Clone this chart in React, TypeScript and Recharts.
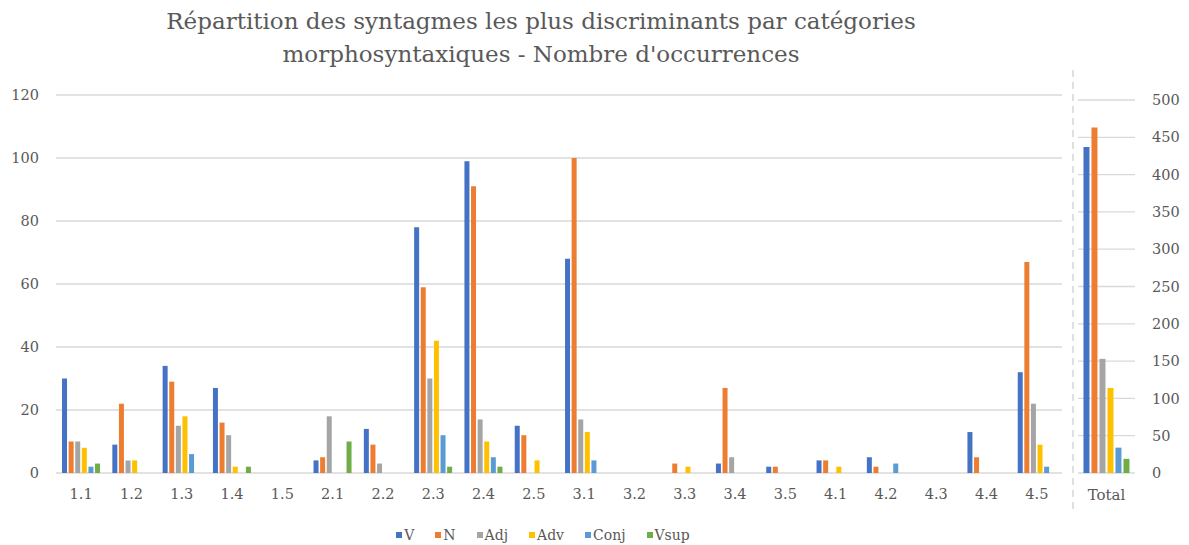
import React from 'react';
import { BarChart, Bar, XAxis, YAxis, CartesianGrid } from 'recharts';

const categories = ['1.1', '1.2', '1.3', '1.4', '1.5', '2.1', '2.2', '2.3', '2.4', '2.5', '3.1', '3.2', '3.3', '3.4', '3.5', '4.1', '4.2', '4.3', '4.4', '4.5'];
const seriesV = [30, 9, 34, 27, 0, 4, 14, 78, 99, 15, 68, 0, 0, 3, 2, 4, 5, 0, 13, 32];
const seriesN = [10, 22, 29, 16, 0, 5, 9, 59, 91, 12, 100, 0, 3, 27, 2, 4, 2, 0, 5, 67];
const seriesAdj = [10, 4, 15, 12, 0, 18, 3, 30, 17, 0, 17, 0, 0, 5, 0, 0, 0, 0, 0, 22];
const seriesAdv = [8, 4, 18, 2, 0, 0, 0, 42, 10, 4, 13, 0, 2, 0, 0, 2, 0, 0, 0, 9];
const seriesConj = [2, 0, 6, 0, 0, 0, 0, 12, 5, 0, 4, 0, 0, 0, 0, 0, 3, 0, 0, 2];
const seriesVsup = [3, 0, 0, 2, 0, 10, 0, 2, 2, 0, 0, 0, 0, 0, 0, 0, 0, 0, 0, 0];

const totalCategory = ['Total'];
const totalValues = [437, 463, 153, 114, 34, 19];

const seriesNames = ['V', 'N', 'Adj', 'Adv', 'Conj', 'Vsup'];
const seriesColors = ['#4472C4', '#ED7D31', '#A5A5A5', '#FFC000', '#5B9BD5', '#70AD47'];

const leftTicks = [0, 20, 40, 60, 80, 100, 120];
const rightTicks = [0, 50, 100, 150, 200, 250, 300, 350, 400, 450, 500];

const titleLine1 = 'Répartition des syntagmes les plus discriminants par catégories';
const titleLine2 = "morphosyntaxiques - Nombre d'occurrences";

const allSeries = [seriesV, seriesN, seriesAdj, seriesAdv, seriesConj, seriesVsup];

const mainData = categories.map((c, i) => {
  const row: Record<string, any> = { cat: c };
  seriesNames.forEach((s, k) => {
    row[s] = allSeries[k][i];
  });
  return row;
});

const totalData = totalCategory.map((c) => {
  const row: Record<string, any> = { cat: c };
  seriesNames.forEach((s, k) => {
    row[s] = totalValues[k];
  });
  return row;
});

const FONT = '"DejaVu Serif", serif';
const TEXT = '#595959';
const GRID = '#d9d9d9';

export default function App() {
  const tickStyle = { fontFamily: FONT, fontSize: 14.5, fill: TEXT };
  return (
    <div style={{ position: 'absolute', left: 0, top: 0, width: 1189, height: 545, background: '#fff', overflow: 'hidden' }}>
      <svg width={1189} height={80} style={{ position: 'absolute', left: 0, top: 0 }}>
        <text x={541} y={29} textAnchor="middle" fontFamily={FONT} fontSize={23} fill={TEXT}>{titleLine1}</text>
        <text x={541} y={62} textAnchor="middle" fontFamily={FONT} fontSize={23} fill={TEXT}>{titleLine2}</text>
      </svg>

      <div style={{ position: 'absolute', left: 0, top: 0 }}>
        <BarChart width={1062} height={545} data={mainData} margin={{ top: 95, right: 0, bottom: 42, left: 0 }} barCategoryGap="12%" barGap={1.6}>
          <CartesianGrid vertical={false} stroke={GRID} strokeWidth={1.3} />
          <XAxis dataKey="cat" interval={0} axisLine={false} tickLine={false} tickMargin={10} height={30} tick={tickStyle} />
          <YAxis domain={[0, 120]} ticks={leftTicks} width={56} axisLine={false} tickLine={false} tickMargin={11} tick={tickStyle} />
          {seriesNames.map((s, k) => (
            <Bar key={s} dataKey={s} fill={seriesColors[k]} isAnimationActive={false} />
          ))}
        </BarChart>
      </div>

      <div style={{ position: 'absolute', left: 1060, top: 0 }}>
        <BarChart width={129} height={545} data={totalData} margin={{ top: 100, right: 0, bottom: 42, left: 18 }} barCategoryGap="9.6%" barGap={2}>
          <CartesianGrid vertical={false} stroke={GRID} strokeWidth={1.3} />
          <XAxis dataKey="cat" interval={0} axisLine={false} tickLine={false} tickMargin={10} height={30} tick={{ ...tickStyle, fontSize: 15 }} />
          <YAxis orientation="right" domain={[0, 500]} ticks={rightTicks} width={54} axisLine={false} tickLine={false} tickMargin={11} tick={tickStyle} />
          {seriesNames.map((s, k) => (
            <Bar key={s} dataKey={s} fill={seriesColors[k]} isAnimationActive={false} />
          ))}
        </BarChart>
      </div>

      <svg width={10} height={545} style={{ position: 'absolute', left: 1068, top: 0 }}>
        <line x1={5} y1={70} x2={5} y2={511} stroke="#bfbfbf" strokeWidth={1} strokeDasharray="7 5" />
      </svg>

      <div style={{ position: 'absolute', left: 0, top: 526, width: 1086, display: 'flex', justifyContent: 'center', fontFamily: FONT, fontSize: 14, color: TEXT, lineHeight: '18px' }}>
        {seriesNames.map((s, k) => (
          <div key={s} style={{ display: 'flex', alignItems: 'center', marginRight: k === seriesNames.length - 1 ? 0 : 21 }}>
            <span style={{ display: 'inline-block', width: 6, height: 6, background: seriesColors[k], marginRight: 2 }} />
            <span>{s}</span>
          </div>
        ))}
      </div>
    </div>
  );
}
